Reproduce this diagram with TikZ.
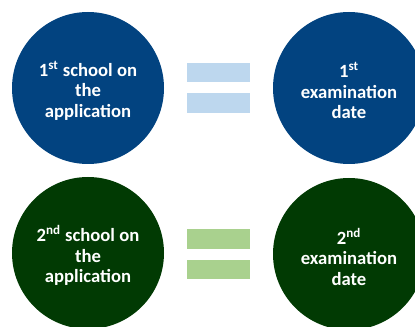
\documentclass[tikz,border=0pt]{standalone}
\usepackage{fontspec}
\setmainfont{Carlito}
\definecolor{darkblue}{HTML}{024380}
\definecolor{darkgreen}{HTML}{013A03}
\definecolor{lightblue}{HTML}{BDD7EE}
\definecolor{lightgreen}{HTML}{A9D18E}
\tikzset{
  disc/.style={circle, minimum size=114pt, inner sep=0pt},
  disctext/.style={inner sep=0pt, text=white,
    font=\fontsize{14pt}{15.3pt}\selectfont\bfseries, align=center},
  bar/.style={rectangle, inner sep=0pt, minimum width=47.25pt, minimum height=14.5pt}
}
\begin{document}
\begin{tikzpicture}[x=0.75pt,y=-0.75pt]
\useasboundingbox (0,0) rectangle (415,327);
\clip (0,0) rectangle (415,327);
\node[disc, fill=darkblue] (s1) at (88,88) {};
\node[disctext] (s1t) at ([yshift=-2pt]s1.center) {1\textsuperscript{st} school on\\the\\application};
\node[disc, fill=darkblue] (e1) at (349,88) {};
\node[disctext] (e1t) at ([yshift=-2pt]e1.center) {1\textsuperscript{st}\\examination\\date};
\node[bar, fill=lightblue] (b1a) at (218.5,72.5) {};
\node[bar, fill=lightblue] (b1b) at (218.5,103) {};
\node[disc, fill=darkgreen] (s2) at (88,253) {};
\node[disctext] (s2t) at ([yshift=-2pt]s2.center) {2\textsuperscript{nd} school on\\the\\application};
\node[disc, fill=darkgreen] (e2) at (349,254) {};
\node[disctext] (e2t) at ([yshift=-2pt]e2.center) {2\textsuperscript{nd}\\examination\\date};
\node[bar, fill=lightgreen] (b2a) at (218.5,239) {};
\node[bar, fill=lightgreen] (b2b) at (218.5,269.5) {};
\end{tikzpicture}
\end{document}
